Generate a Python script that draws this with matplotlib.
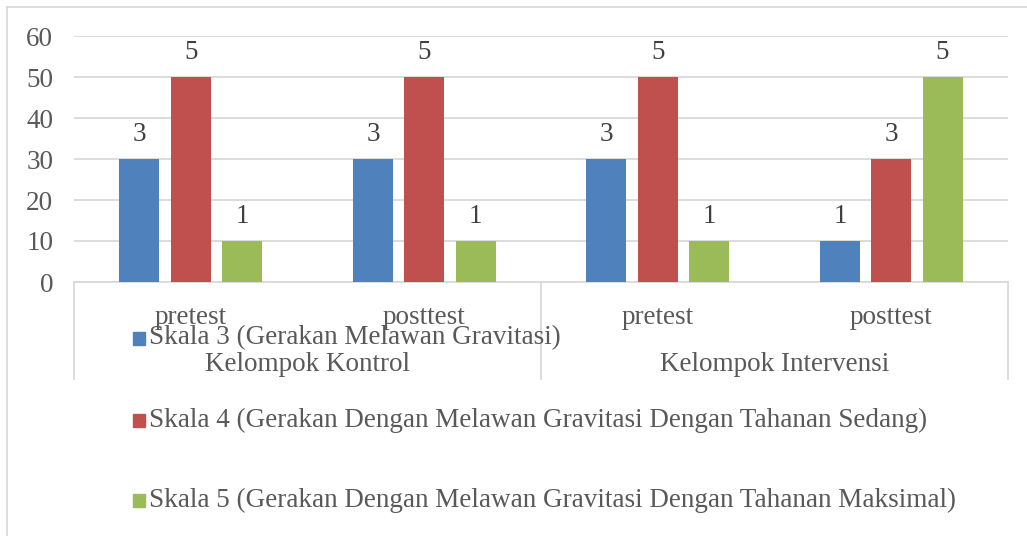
import matplotlib
matplotlib.use("Agg")
import matplotlib.pyplot as plt
import numpy as np
from matplotlib.lines import Line2D
from matplotlib.patches import Rectangle

plt.rcParams["font.family"] = ["Liberation Serif", "DejaVu Serif"]

# subgroups (test) within each group
tests = ["pretest", "posttest", "pretest", "posttest"]
groups = ["Kelompok Kontrol", "Kelompok Intervensi"]
series = [
    "Skala 3 (Gerakan Melawan Gravitasi)",
    "Skala 4 (Gerakan Dengan Melawan Gravitasi Dengan Tahanan Sedang)",
    "Skala 5 (Gerakan Dengan Melawan Gravitasi Dengan Tahanan Maksimal)",
]
# percentage per scale (bar heights)
pct_skala3 = [30, 30, 30, 10]
pct_skala4 = [50, 50, 50, 30]
pct_skala5 = [10, 10, 10, 50]
# number of respondents (data labels)
n_skala3 = [3, 3, 3, 1]
n_skala4 = [5, 5, 5, 3]
n_skala5 = [1, 1, 1, 5]

colors = ["#4F81BD", "#C0504D", "#9BBB59"]
txt = "#595959"
grid = "#D9D9D9"
fs = 19.5

W, H = 1027, 536
fig = plt.figure(figsize=(W / 100, H / 100), dpi=100)
ax = fig.add_axes([74 / W, 1 - 282 / H, (1008 - 74) / W, (282 - 36) / H])

x = np.arange(len(tests))
width = 0.172
step = 0.22
for i, (pct, n) in enumerate([(pct_skala3, n_skala3), (pct_skala4, n_skala4),
                              (pct_skala5, n_skala5)]):
    pos = x + (i - 1) * step
    bars = ax.bar(pos, pct, width, color=colors[i], zorder=3, label=series[i])
    for b, v in zip(bars, n):
        ax.annotate(str(v), (b.get_x() + b.get_width() / 2, b.get_height()),
                    xytext=(0, 17.5), textcoords="offset points",
                    ha="center", va="center", fontsize=fs, color="#404040")

ax.set_xlim(-0.5, len(tests) - 0.5)
ax.set_ylim(0, 60)
ax.set_yticks(range(0, 61, 10))
ax.yaxis.grid(True, color=grid, lw=1.3, zorder=0)
ax.tick_params(axis="y", length=0, pad=15, labelsize=fs, labelcolor=txt)
ax.set_xticks([])
for s in ["top", "right", "left"]:
    ax.spines[s].set_visible(False)
ax.spines["bottom"].set_color(grid)
ax.spines["bottom"].set_linewidth(1.3)

# two-level category axis
tr = ax.get_xaxis_transform()
for i, t in enumerate(tests):
    ax.text(x[i], -0.145, t, transform=tr, ha="center", va="center",
            fontsize=fs, color=txt)
for j, g in enumerate(groups):
    ax.text(x[2 * j] + 0.5, -0.335, g, transform=tr, ha="center", va="center",
            fontsize=fs, color=txt)
for xv in [-0.5, 1.5, 3.5]:
    ax.add_line(Line2D([xv, xv], [0, -0.395], transform=tr, color=grid,
                       lw=1.3, clip_on=False))

# legend entries stacked below the axis
leg_y = [338, 420, 500]
for i, s in enumerate(series):
    yy = 1 - leg_y[i] / H
    fig.patches.append(Rectangle((133 / W, yy - 6.5 / H), 12 / W, 13 / H,
                                 transform=fig.transFigure, color=colors[i]))
    fig.text(149 / W, yy, s, ha="left", va="center", fontsize=fs, color=txt)

# chart border
fig.add_artist(Line2D([7 / W, 7 / W], [0, 1 - 7 / H], color=grid, lw=1.3))
fig.add_artist(Line2D([7 / W, 1], [1 - 7 / H, 1 - 7 / H], color=grid, lw=1.3))

fig.savefig("out.png", dpi=100)
